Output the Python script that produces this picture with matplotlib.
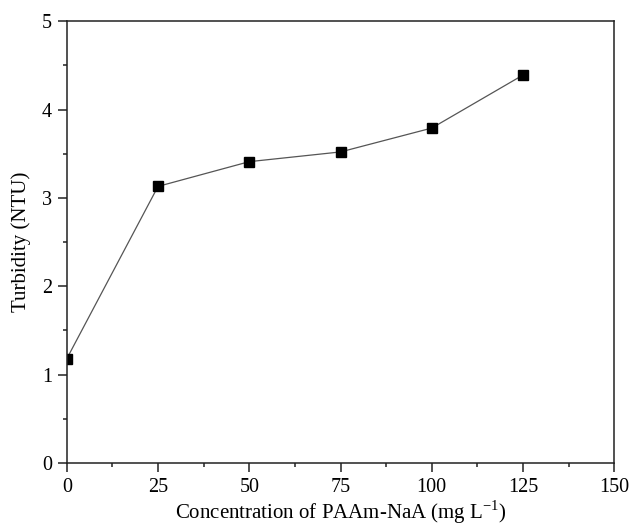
import matplotlib
matplotlib.use('Agg')
import matplotlib.pyplot as plt
from matplotlib.ticker import MultipleLocator

# PAAm-NaA dose vs. residual turbidity
conc = [0, 25, 50, 75, 100, 125]
turbidity = [1.18, 3.13, 3.41, 3.52, 3.79, 4.39]

plt.rcParams['font.family'] = ['Liberation Serif', 'DejaVu Serif']

fig = plt.figure(figsize=(6.3, 5.28), dpi=100)
ax = fig.add_axes([0.106, 0.123, 0.869, 0.837])

ax.plot(conc, turbidity, color='#555555', linewidth=0.9,
        marker='s', markersize=7, markerfacecolor='black',
        markeredgecolor='black')

ax.set_xlim(0, 150)
ax.set_ylim(0, 5)
ax.xaxis.set_major_locator(MultipleLocator(25))
ax.xaxis.set_minor_locator(MultipleLocator(12.5))
ax.yaxis.set_major_locator(MultipleLocator(1))
ax.yaxis.set_minor_locator(MultipleLocator(0.5))

for s in ax.spines.values():
    s.set_linewidth(1.1)
    s.set_color('#222222')
ax.tick_params(which='both', direction='out', top=False, right=False,
               width=1.1, color='#222222', labelsize=14.5)
ax.tick_params(which='major', length=6.5, pad=4)
ax.tick_params(which='minor', length=3)

ax.set_xlabel('Concentration of PAAm-NaA (mg L$^{\\mathregular{-1}}$)', fontsize=15, labelpad=1)
ax.set_ylabel('Turbidity (NTU)', fontsize=15, labelpad=8)

plt.savefig('out.png', dpi=100)
plt.close()
